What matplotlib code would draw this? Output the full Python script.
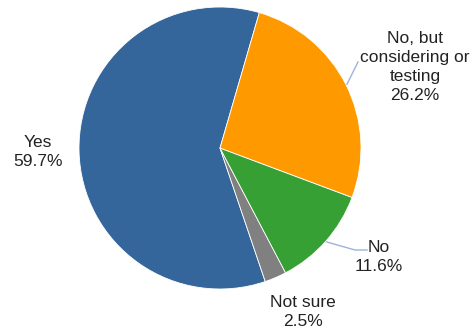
import numpy as np
import matplotlib.pyplot as plt

# survey answers, in drawing order (counter-clockwise from the top)
categories = ["Yes", "Not sure", "No", "No, but\nconsidering or\ntesting"]
shares = [59.7, 2.5, 11.6, 26.2]
colors = ["#34659B", "#808080", "#37A035", "#FE9A00"]

# label text positions in pixel coords (y measured from the top)
label_pos = [(38, 152), (303, 312), (379, 257), (415, 67)]
# leader line bend points after leaving the pie edge (None = no leader)
leader_pts = [None, None, [(355, 250), (367, 250)], [(358, 62)]]

W, H = 474, 331
cx, cy, r = 220, H - 148, 141

plt.rcParams['font.family'] = ['Liberation Sans', 'DejaVu Sans']

fig = plt.figure(figsize=(W / 100, H / 100), dpi=100)
ax = fig.add_axes([0, 0, 1, 1])

wedges, _ = ax.pie(shares, colors=colors, startangle=73.8, radius=r,
                   center=(cx, cy), frame=True,
                   wedgeprops=dict(edgecolor='white', linewidth=0.6))
ax.set_xlim(0, W)
ax.set_ylim(0, H)
ax.set_aspect('equal')
ax.axis('off')

for w, cat, val, (tx, ty), pts in zip(wedges, categories, shares, label_pos, leader_pts):
    ax.text(tx, H - ty, f"{cat}\n{val}%", ha='center', va='center', fontsize=12.5,
            color='#222222', linespacing=1.35)
    if pts:
        mid = np.deg2rad((w.theta1 + w.theta2) / 2)
        xs = [cx + (r + 1) * np.cos(mid)] + [p[0] for p in pts]
        ys = [cy + (r + 1) * np.sin(mid)] + [H - p[1] for p in pts]
        ax.plot(xs, ys, color='#9DB3DA', lw=1)

fig.savefig("out.png", dpi=100)
